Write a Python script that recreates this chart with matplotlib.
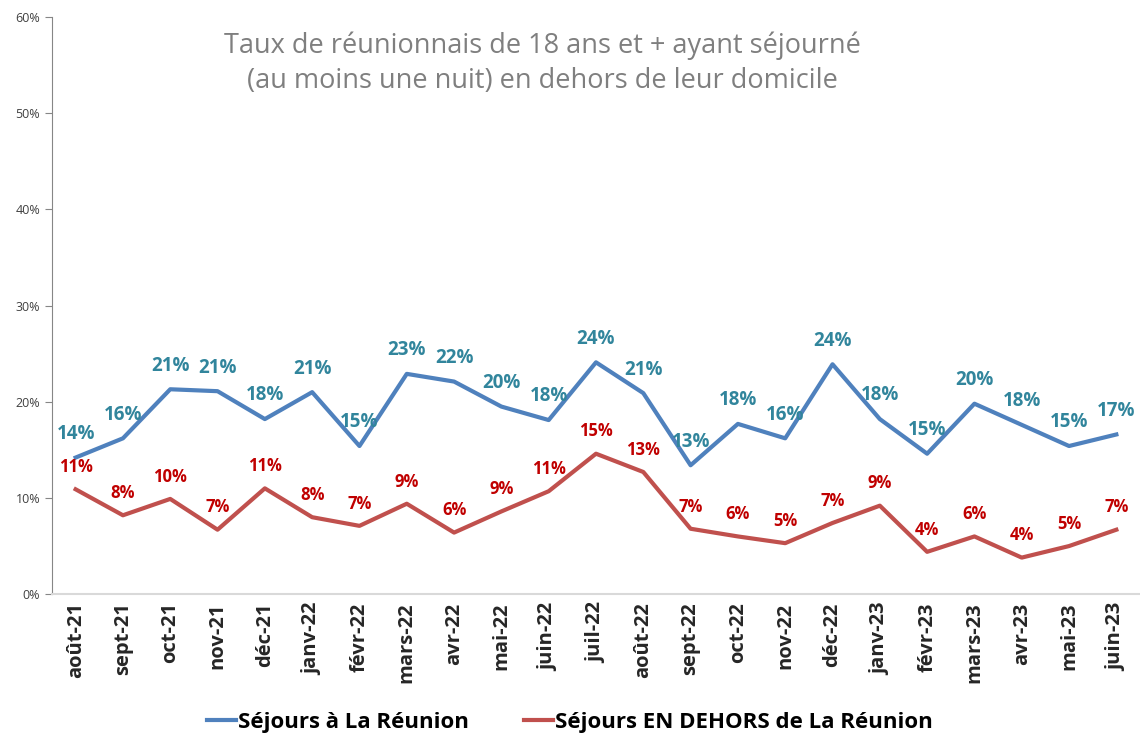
import matplotlib
matplotlib.use('Agg')
import matplotlib.pyplot as plt
from matplotlib.ticker import PercentFormatter

plt.rcParams['font.family'] = ['Open Sans', 'DejaVu Sans']

mois = ['août-21', 'sept-21', 'oct-21', 'nov-21', 'déc-21', 'janv-22', 'févr-22',
        'mars-22', 'avr-22', 'mai-22', 'juin-22', 'juil-22', 'août-22', 'sept-22',
        'oct-22', 'nov-22', 'déc-22', 'janv-23', 'févr-23', 'mars-23', 'avr-23',
        'mai-23', 'juin-23']

# valeurs (en %)
reunion = [14.2, 16.2, 21.3, 21.1, 18.2, 21.0, 15.4, 22.9, 22.1, 19.5, 18.1, 24.1,
           20.9, 13.4, 17.7, 16.2, 23.9, 18.2, 14.6, 19.8, 17.6, 15.4, 16.6]
dehors = [10.9, 8.2, 9.9, 6.7, 11.0, 8.0, 7.1, 9.4, 6.4, 8.6, 10.7, 14.6,
          12.7, 6.8, 6.0, 5.3, 7.4, 9.2, 4.4, 6.0, 3.8, 5.0, 6.7]

TITRE = ('Taux de réunionnais de 18 ans et + ayant séjourné\n'
         '(au moins une nuit) en dehors de leur domicile')

fig = plt.figure(figsize=(11.4, 7.39), dpi=100)
ax = fig.add_axes([0.0456, 0.196, 0.9544, 0.781])

x = list(range(len(mois)))
ax.plot(x, reunion, color='#4F81BD', lw=3, label='Séjours à La Réunion')
ax.plot(x, dehors, color='#C0504D', lw=3, label='Séjours EN DEHORS de La Réunion')

# étiquettes de données
for i, v in enumerate(reunion):
    ax.annotate('%d%%' % int(v + 0.5), (i, v), xytext=(0, 17), textcoords='offset points',
                ha='center', va='center', fontsize=13.5, fontweight='bold', color='#31859C')
for i, v in enumerate(dehors):
    ax.annotate('%d%%' % int(v + 0.5), (i, v), xytext=(0, 16), textcoords='offset points',
                ha='center', va='center', fontsize=12, fontweight='bold', color='#C00000')

ax.set_xlim(-0.5, len(mois) - 0.5)
ax.set_ylim(0, 60)
ax.set_yticks(range(0, 61, 10))
ax.yaxis.set_major_formatter(PercentFormatter(decimals=0))
ax.tick_params(axis='y', labelsize=9, colors='#404040', length=5, color='#868686')
ax.set_xticks(x)
ax.set_xticklabels(mois, rotation=90, fontsize=14.5, fontweight='bold', color='#262626')
ax.tick_params(axis='x', length=0, pad=6)

for s in ['top', 'right']:
    ax.spines[s].set_visible(False)
ax.spines['left'].set_color('#868686')
ax.spines['bottom'].set_color('#D9D9D9')
ax.spines['bottom'].set_linewidth(1.5)

fig.text(0.476, 0.914, TITRE, ha='center', va='center', fontsize=19.5,
         color='#7F7F7F', linespacing=1.35)

fig.legend(loc='center', bbox_to_anchor=(0.5, 0.022), ncol=2, frameon=False,
           prop={'weight': 'bold', 'size': 16}, handlelength=1.3,
           handletextpad=0.1, columnspacing=2.5)

plt.savefig('out.png', dpi=100)
plt.close()
